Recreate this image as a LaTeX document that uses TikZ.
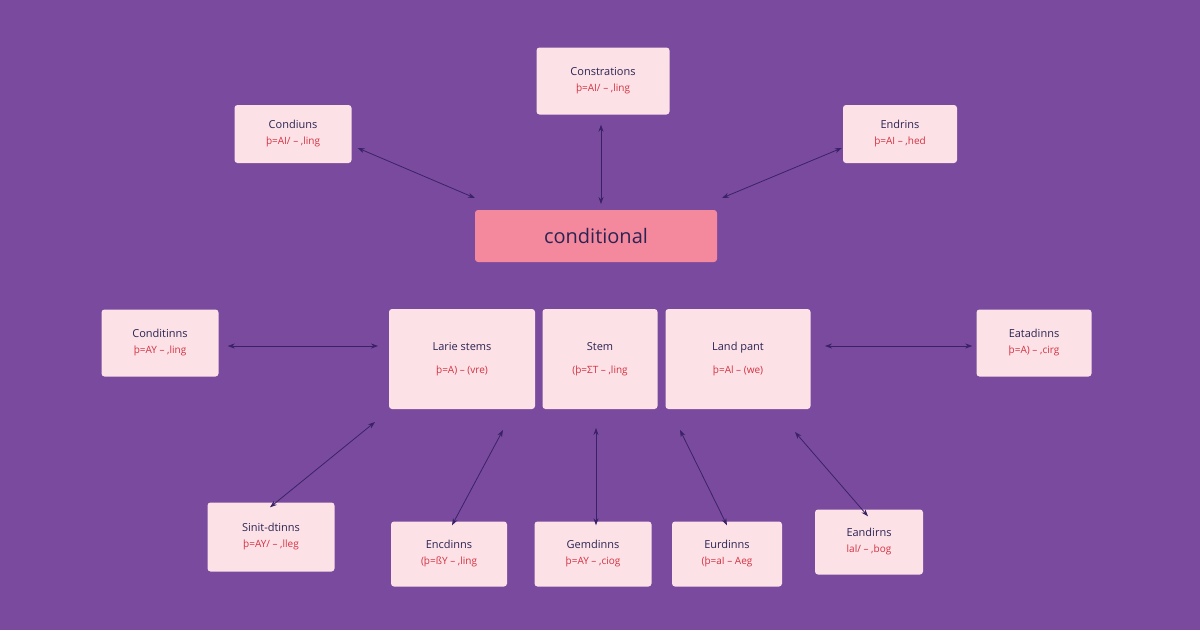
\documentclass[tikz,border=0pt]{standalone}
\usepackage{fontspec}
\setmainfont{Open Sans}
\usetikzlibrary{arrows.meta}
\definecolor{bgpurple}{HTML}{7A4A9E}
\definecolor{boxpink}{HTML}{FCE1E7}
\definecolor{hubpink}{HTML}{F4899E}
\definecolor{inkblue}{HTML}{2B2452}
\definecolor{inkred}{HTML}{D4313F}
\definecolor{linkpurple}{HTML}{3A2268}
\tikzset{
  card/.style={draw=none, fill=boxpink, rounded corners=3pt, align=center, text=inkblue, font=\fontsize{11}{17}\selectfont, inner sep=0pt},
  link/.style={draw=linkpurple, line width=0.8pt, {Stealth[length=7pt,width=5pt]}-{Stealth[length=7pt,width=5pt]}},
}
\newcommand{\sub}[1]{\\[-1pt]{\color{inkred}\fontsize{10}{12}\selectfont #1}}
\begin{document}
\begin{tikzpicture}[x=1pt,y=-1pt]
  \fill[bgpurple] (0,0) rectangle (1200,630);
  \useasboundingbox (0,0) rectangle (1200,630);
  % top row
  \node[card, minimum width=133, minimum height=67] (constr) at (603,81) {Constrations\sub{þ=AI/ -- ,ling}};
  \node[card, minimum width=117, minimum height=58] (condiuns) at (293,134) {Condiuns\sub{þ=AI/ -- ,ling}};
  \node[card, minimum width=114, minimum height=58] (endrins) at (900,134) {Endrins\sub{þ=AI -- ,hed}};
  % hub
  \node[draw=none, fill=hubpink, rounded corners=3pt, minimum width=242, minimum height=52, text=inkblue, font=\fontsize{20}{24}\selectfont] (hub) at (596,236) {conditional};
  % middle row
  \node[card, minimum width=117, minimum height=67] (conditinns) at (160,343) {Conditinns\sub{þ=AY -- ,ling}};
  \node[card, minimum width=146, minimum height=100] (larie) at (462,359) {Larie stems\\[6pt]{\color{inkred}\fontsize{10}{12}\selectfont þ=A) -- (vre)}};
  \node[card, minimum width=115, minimum height=100] (stem) at (600,359) {Stem\\[6pt]{\color{inkred}\fontsize{10}{12}\selectfont (þ=ΣT -- ,ling}};
  \node[card, minimum width=145, minimum height=100] (land) at (738,359) {Land pant\\[6pt]{\color{inkred}\fontsize{10}{12}\selectfont þ=Al -- (we)}};
  \node[card, minimum width=115, minimum height=67] (eatadinns) at (1034,343) {Eatadinns\sub{þ=A) -- ,cirg}};
  % bottom row
  \node[card, minimum width=127, minimum height=69] (sinit) at (271,537) {Sinit-dtinns\sub{þ=AY/ -- ,lleg}};
  \node[card, minimum width=116, minimum height=65] (encd) at (449,554) {Encdinns\sub{(þ=ßY -- ,ling}};
  \node[card, minimum width=117, minimum height=65] (gemd) at (593,554) {Gemdinns\sub{þ=AY -- ,ciog}};
  \node[card, minimum width=110, minimum height=65] (eurd) at (727,554) {Eurdinns\sub{(þ=aI -- Aeg}};
  \node[card, minimum width=108, minimum height=65] (eand) at (869,542) {Eandirns\sub{lal/ -- ,bog}};
  % free ends near the hub and the centre cards
  \coordinate (h1) at (475,198);
  \coordinate (h2) at (601,204);
  \coordinate (h3) at (722,198);
  \coordinate (m1) at (378,346);
  \coordinate (m2) at (825,346);
  \coordinate (b1) at (375,422);
  \coordinate (b2) at (503,430);
  \coordinate (b3) at (596,428);
  \coordinate (b4) at (680,430);
  \coordinate (b5) at (795,432);
  \draw[link] (condiuns.east) ++(6,14) coordinate (c1) (c1) -- (h1);
  \draw[link] (constr.south) ++(-2,10) coordinate (c2) (c2) -- (h2);
  \draw[link] (endrins.west) ++(-1,14) coordinate (c3) (c3) -- (h3);
  \draw[link] (conditinns.east) ++(9,3) coordinate (c4) (c4) -- (m1);
  \draw[link] (eatadinns.west) ++(-4,3) coordinate (c5) (c5) -- (m2);
  \draw[link] (b1) -- ([xshift=-1pt,yshift=-5pt]sinit.north);
  \draw[link] (b2) -- ([xshift=3pt,yshift=-4pt]encd.north);
  \draw[link] (b3) -- ([xshift=3pt,yshift=-4pt]gemd.north);
  \draw[link] (b4) -- ([yshift=-4pt]eurd.north);
  \draw[link] (b5) -- ([xshift=-1pt,yshift=-7pt]eand.north);
\end{tikzpicture}
\end{document}
